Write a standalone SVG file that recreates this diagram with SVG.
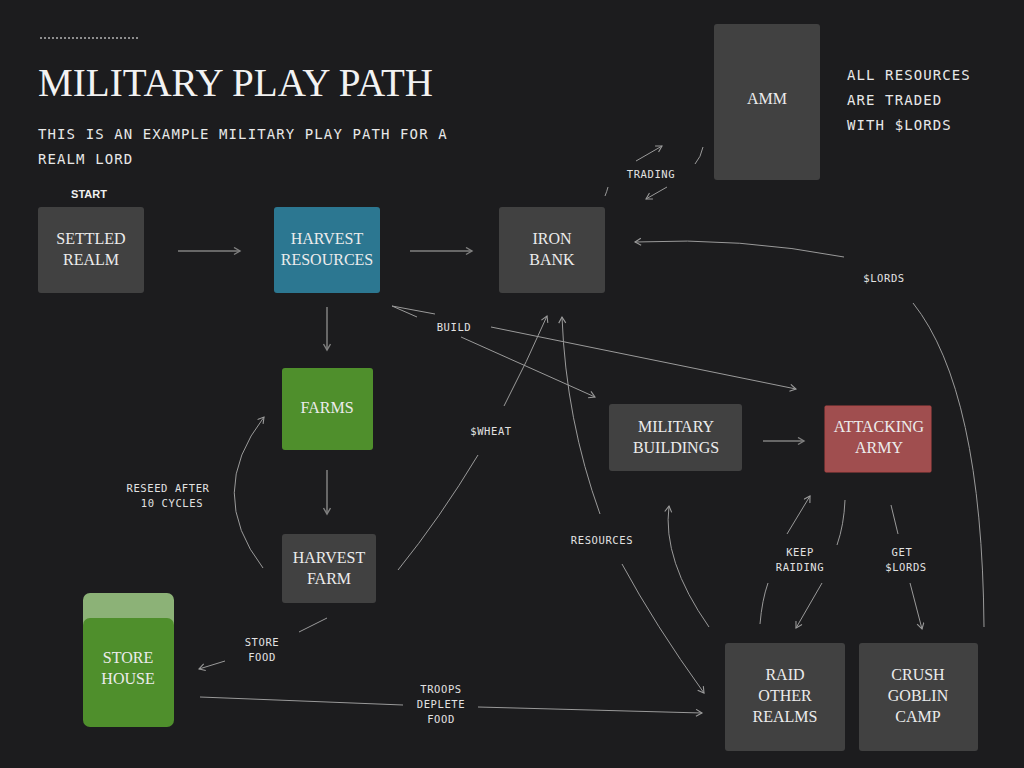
<svg xmlns="http://www.w3.org/2000/svg" width="1024" height="768" viewBox="0 0 1024 768">
<defs>
<marker id="arr" markerUnits="userSpaceOnUse" markerWidth="12" markerHeight="12" refX="7" refY="4" orient="auto">
<path d="M1,0.5 L7,4 L1,7.5" fill="none" stroke="#9a9a9a" stroke-width="1.1"/>
</marker>
<marker id="arrS" markerUnits="userSpaceOnUse" markerWidth="12" markerHeight="12" refX="7" refY="4" orient="auto">
<path d="M1,0.5 L7,4 L1,7.5" fill="none" stroke="#808080" stroke-width="1.4"/>
</marker>
</defs>
<style>
.node{fill:#414141}
.nt{font-family:"Liberation Serif","Times New Roman",serif;font-size:16px;fill:#ececec;text-anchor:middle}
.lbl{font-family:"DejaVu Sans Mono","Liberation Mono",monospace;font-size:10.5px;letter-spacing:0.6px;fill:#e2e2e2;text-anchor:middle}
.mono{font-family:"DejaVu Sans Mono","Liberation Mono",monospace;font-size:14px;letter-spacing:1.1px;fill:#e8e8e8}
.c{fill:none;stroke:#9a9a9a;stroke-width:1}
.s{fill:none;stroke:#808080;stroke-width:1.5}
</style>
<rect width="1024" height="768" fill="#1c1c1e"/>
<line x1="40" y1="38" x2="138" y2="38" stroke="#ffffff" stroke-width="1" stroke-dasharray="2,2"/>
<text x="38" y="96" font-family="Liberation Serif,'Times New Roman',serif" font-size="39" fill="#f2f2f2" textLength="395" lengthAdjust="spacingAndGlyphs">MILITARY PLAY PATH</text>
<text class="mono" x="38" y="139">THIS IS AN EXAMPLE MILITARY PLAY PATH FOR A</text>
<text class="mono" x="38" y="164">REALM LORD</text>
<text class="mono" x="847" y="80">ALL RESOURCES</text>
<text class="mono" x="847" y="105">ARE TRADED</text>
<text class="mono" x="847" y="130">WITH $LORDS</text>
<text x="89" y="198" font-family="Liberation Sans,Arial,sans-serif" font-weight="bold" font-size="11" fill="#f0f0f0" text-anchor="middle">START</text>

<g id="connectors">
<path class="s" d="M178,251 L240,251" marker-end="url(#arrS)"/>
<path class="s" d="M410,251 L472,251" marker-end="url(#arrS)"/>
<path class="s" d="M327,307 L327,350" marker-end="url(#arrS)"/>
<path class="s" d="M327,470 L327,514" marker-end="url(#arrS)"/>
<path class="s" d="M763,441 L804,441" marker-end="url(#arrS)"/>
<path class="c" d="M263,568 Q205,493 264,417" marker-end="url(#arr)"/>
<path class="c" d="M398,570 Q440,518 478,455"/>
<path class="c" d="M504,406 Q527,362 547,316" marker-end="url(#arr)"/>
<path class="c" d="M600,514 Q566,420 562,317" marker-end="url(#arr)"/>
<path class="c" d="M622,564 Q655,625 704,693" marker-end="url(#arr)"/>
<path class="c" d="M392,306 L435,314"/>
<path class="c" d="M392,306 L417,317"/>
<path class="c" d="M491,327 L796,389" marker-end="url(#arr)"/>
<path class="c" d="M461,337 L595,397" marker-end="url(#arr)"/>
<path class="c" d="M605,196 Q607,191 608,187"/>
<path class="c" d="M636,161 L662,146" marker-end="url(#arr)"/>
<path class="c" d="M703,147 Q701,157 695,164"/>
<path class="c" d="M667,187 L646,199" marker-end="url(#arr)"/>
<path class="c" d="M984,627 Q982,390 913,303"/>
<path class="c" d="M844,257 Q740,237 635,242" marker-end="url(#arr)"/>
<path class="c" d="M709,627 Q662,560 669,506" marker-end="url(#arr)"/>
<path class="c" d="M760,624 Q762,600 768,583"/>
<path class="c" d="M787,534 L810,496" marker-end="url(#arr)"/>
<path class="c" d="M845,500 Q844,525 837,545"/>
<path class="c" d="M822,583 L796,628" marker-end="url(#arr)"/>
<path class="c" d="M891,505 L898,534"/>
<path class="c" d="M910,583 L922,629" marker-end="url(#arr)"/>
<path class="c" d="M327,618 L299,632"/>
<path class="c" d="M225,661 L199,669" marker-end="url(#arr)"/>
<path class="c" d="M200,697 L403,705"/>
<path class="c" d="M478,707 L702,713" marker-end="url(#arr)"/>
<text class="lbl" x="168" y="492">RESEED AFTER</text>
<text class="lbl" x="172" y="507">10 CYCLES</text>
<text class="lbl" x="491" y="435">$WHEAT</text>
<text class="lbl" x="602" y="544">RESOURCES</text>
<text class="lbl" x="454" y="331">BUILD</text>
<text class="lbl" x="651" y="178">TRADING</text>
<text class="lbl" x="884" y="282">$LORDS</text>
<text class="lbl" x="800" y="556">KEEP</text>
<text class="lbl" x="800" y="571">RAIDING</text>
<text class="lbl" x="902" y="556">GET</text>
<text class="lbl" x="906" y="571">$LORDS</text>
<text class="lbl" x="262" y="646">STORE</text>
<text class="lbl" x="262" y="661">FOOD</text>
<text class="lbl" x="441" y="693">TROOPS</text>
<text class="lbl" x="441" y="708">DEPLETE</text>
<text class="lbl" x="441" y="723">FOOD</text>
</g>

<g id="settled-realm">
<rect class="node" x="38" y="207" width="106" height="86" rx="3"/>
<text class="nt" x="91" y="244">SETTLED</text>
<text class="nt" x="91" y="265">REALM</text>
</g>
<g id="harvest-resources">
<rect x="274" y="207" width="106" height="86" rx="3" fill="#2c7791"/>
<text class="nt" x="327" y="244">HARVEST</text>
<text class="nt" x="327" y="265">RESOURCES</text>
</g>
<g id="iron-bank">
<rect class="node" x="499" y="207" width="106" height="86" rx="3"/>
<text class="nt" x="552" y="244">IRON</text>
<text class="nt" x="552" y="265">BANK</text>
</g>
<g id="amm">
<rect class="node" x="714" y="24" width="106" height="156" rx="3"/>
<text class="nt" x="767" y="104">AMM</text>
</g>
<g id="farms">
<rect x="282" y="368" width="91" height="82" rx="3" fill="#4f8f2c"/>
<text class="nt" x="327" y="413">FARMS</text>
</g>
<g id="harvest-farm">
<rect class="node" x="282" y="534" width="94" height="69" rx="3"/>
<text class="nt" x="329" y="563">HARVEST</text>
<text class="nt" x="329" y="584">FARM</text>
</g>
<g id="store-house">
<rect x="83" y="593" width="91" height="60" rx="7" fill="#8cb277"/>
<rect x="83" y="618" width="91" height="109" rx="7" fill="#4f8f2c"/>
<text class="nt" x="128" y="663">STORE</text>
<text class="nt" x="128" y="684">HOUSE</text>
</g>
<g id="military-buildings">
<rect class="node" x="609" y="404" width="133" height="67" rx="3"/>
<text class="nt" x="676" y="432">MILITARY</text>
<text class="nt" x="676" y="453">BUILDINGS</text>
</g>
<g id="attacking-army">
<rect x="825" y="406" width="106" height="66" rx="1" fill="#a04e4f" stroke="#ad4646" stroke-width="1"/>
<text class="nt" x="879" y="432">ATTACKING</text>
<text class="nt" x="879" y="453">ARMY</text>
</g>
<g id="raid-other-realms">
<rect class="node" x="725" y="643" width="120" height="108" rx="3"/>
<text class="nt" x="785" y="680">RAID</text>
<text class="nt" x="785" y="701">OTHER</text>
<text class="nt" x="785" y="722">REALMS</text>
</g>
<g id="crush-goblin-camp">
<rect class="node" x="859" y="643" width="119" height="108" rx="3"/>
<text class="nt" x="918" y="680">CRUSH</text>
<text class="nt" x="918" y="701">GOBLIN</text>
<text class="nt" x="918" y="722">CAMP</text>
</g>
</svg>
